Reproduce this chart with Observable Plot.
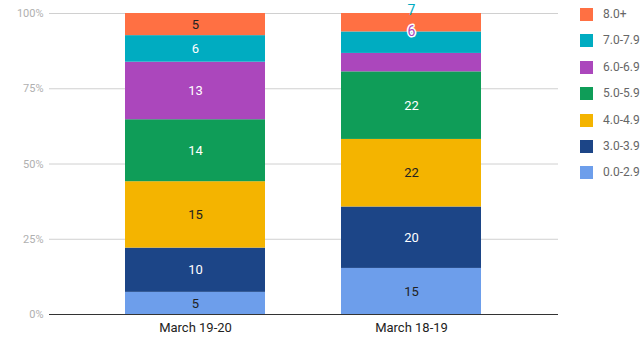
<!DOCTYPE html>
<html><head><meta charset="utf-8">
<script src="https://cdn.jsdelivr.net/npm/d3@7"></script>
<script src="https://cdn.jsdelivr.net/npm/@observablehq/plot@0.6"></script>
<style>
body{margin:0;background:#fff;font-family:Roboto,sans-serif}
#chart{position:relative;width:642px;height:339px}
#legend{position:absolute;left:580px;top:8px;font:12px Roboto,sans-serif;color:#666}
.item{height:26.4px;display:flex;align-items:flex-start}
.sw{width:13px;height:13px;margin-right:10px}
.lt{line-height:13px}
</style></head>
<body><div id="chart"><div id="legend"></div></div>
<script>
const categories = ["March 19-20", "March 18-19"];
const series = ["0.0-2.9", "3.0-3.9", "4.0-4.9", "5.0-5.9", "6.0-6.9", "7.0-7.9", "8.0+"];
const march1920 = [5, 10, 15, 14, 13, 6, 5];
const march1819 = [15, 20, 22, 22, 6, 7, 6];
const colors = ["#6d9eeb", "#1c4587", "#f4b400", "#0f9d58", "#ab47bc", "#00acc1", "#ff7043"];
const darkLabelSeries = ["0.0-2.9", "4.0-4.9", "8.0+"];
const yTicks = [0, 0.25, 0.5, 0.75, 1];
// labels Google drew outside their (too thin) segments, placed at the top of another segment
const outsideLabels = [
  {cat: "March 18-19", series: "7.0-7.9", at: "8.0+"},
  {cat: "March 18-19", series: "6.0-6.9", at: "7.0-7.9"}
];
const hiddenLabels = [["March 18-19", "6.0-6.9"], ["March 18-19", "7.0-7.9"], ["March 18-19", "8.0+"]];

const valuesByCat = {"March 19-20": march1920, "March 18-19": march1819};
const rows = [];
for (const cat of categories) {
  const vals = valuesByCat[cat];
  const total = d3.sum(vals);
  series.forEach((s, j) => rows.push({
    cat, series: s, value: vals[j], share: vals[j] / total,
    dark: darkLabelSeries.includes(s),
    shown: !hiddenLabels.some(([c, ss]) => c === cat && ss === s)
  }));
}
const outside = outsideLabels.map(o => {
  const vals = valuesByCat[o.cat];
  const total = d3.sum(vals);
  const j = series.indexOf(o.series);
  const k = series.indexOf(o.at);
  return {...o, value: vals[j], pos: d3.sum(vals.slice(0, k + 1)) / total};
});
const colorOf = s => colors[series.indexOf(s)];
const out7 = outside.filter(d => d.series === "7.0-7.9");
const out6 = outside.filter(d => d.series === "6.0-6.9");

const chart = Plot.plot({
  width: 642, height: 339,
  marginLeft: 49, marginRight: 84, marginTop: 13, marginBottom: 25,
  style: {fontFamily: "Roboto, sans-serif", fontSize: "13px", background: "#fff"},
  x: {domain: categories, padding: 0.35, label: null},
  y: {domain: [0, 1], label: null},
  color: {domain: series, range: colors},
  marks: [
    Plot.gridY(yTicks, {stroke: "#d0d0d0", strokeOpacity: 1}),
    Plot.barY(rows, {x: "cat", y: "share", fill: "series"}),
    Plot.ruleY([0], {stroke: "#333"}),
    Plot.text(rows, Plot.stackY({x: "cat", y: "share", z: "series", fill: "#222",
      text: d => d.dark && d.shown ? String(d.value) : ""})),
    Plot.text(rows, Plot.stackY({x: "cat", y: "share", z: "series", fill: "#fff",
      text: d => !d.dark && d.shown ? String(d.value) : ""})),
    Plot.text(out7, {x: "cat", y: "pos", text: d => String(d.value),
      fill: colorOf("7.0-7.9"), dy: -3, fontSize: 14}),
    Plot.text(out6, {x: "cat", y: "pos", text: d => String(d.value),
      fill: "#fff", stroke: "#fff", strokeWidth: 3, strokeLinejoin: "round", fontSize: 14}),
    Plot.text(out6, {x: "cat", y: "pos", text: d => String(d.value),
      fill: colorOf("6.0-6.9"), fontSize: 14}),
    Plot.axisX({tickSize: 0, tickPadding: 8, fontSize: 13, color: "#222"}),
    Plot.axisY({ticks: yTicks, tickFormat: d3.format(".0%"), tickSize: 0, tickPadding: 6, fontSize: 11, color: "#b0b0b0"})
  ]
});
document.getElementById("chart").prepend(chart);

const legend = document.getElementById("legend");
for (let i = series.length - 1; i >= 0; i--) {
  const it = document.createElement("div");
  it.className = "item";
  it.innerHTML = `<div class="sw" style="background:${colors[i]}"></div><div class="lt">${series[i]}</div>`;
  legend.appendChild(it);
}
</script></body></html>
